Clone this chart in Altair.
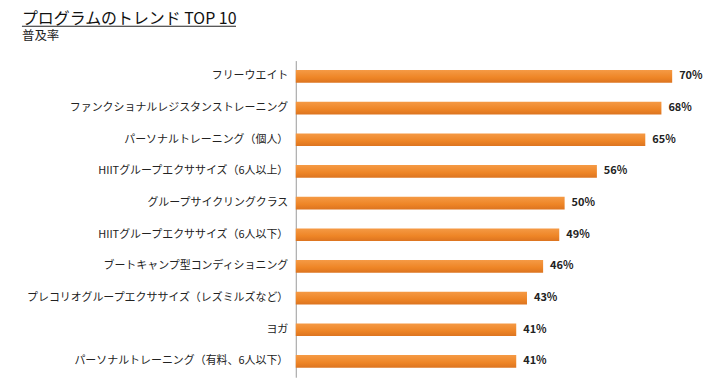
import altair as alt
import pandas as pd

categories = [
    "フリーウエイト",
    "ファンクショナルレジスタンストレーニング",
    "パーソナルトレーニング（個人）",
    "HIITグループエクササイズ（6人以上）",
    "グループサイクリングクラス",
    "HIITグループエクササイズ（6人以下）",
    "ブートキャンプ型コンディショニング",
    "プレコリオグループエクササイズ（レズミルズなど）",
    "ヨガ",
    "パーソナルトレーニング（有料、6人以下）",
]
values = [70, 68, 65, 56, 50, 49, 46, 43, 41, 41]
title_text = ["プログラムのトレンド TOP 10"]
subtitle_text = ["普及率"]

df = pd.DataFrame({"program": categories, "rate": values})
df["label"] = df["rate"].astype(str) + "%"

FONT = "Noto Sans CJK JP"

y_enc = alt.Y("program:N", sort=categories,
              scale=alt.Scale(paddingInner=0.6, paddingOuter=0.3),
              axis=alt.Axis(title=None, ticks=False, labelFontSize=11,
                            labelColor="#222222", labelFont=FONT,
                            labelPadding=8, domainColor="#9a9a9a",
                            labelLimit=300))
x_enc = alt.X("rate:Q", scale=alt.Scale(domain=[0, 70], nice=False),
              axis=None)

bars = alt.Chart(df).mark_bar(
    color=alt.Gradient(
        gradient="linear",
        stops=[alt.GradientStop(color="#F59A45", offset=0),
               alt.GradientStop(color="#EE8526", offset=0.6),
               alt.GradientStop(color="#DC7420", offset=1)],
        x1=0, x2=0, y1=0, y2=1),
    cornerRadius=0,
).encode(x=x_enc, y=y_enc)

labels = alt.Chart(df).mark_text(
    align="left", baseline="middle", dx=7, fontSize=11,
    fontWeight="bold", font=FONT, color="#222222"
).encode(x=x_enc, y=y_enc, text="label:N")

tdf = pd.DataFrame({"t": title_text})
sdf = pd.DataFrame({"t": subtitle_text})

title = alt.Chart(tdf).mark_text(
    align="left", baseline="alphabetic", font=FONT, fontSize=16,
    fontWeight="normal", color="#111111"
).encode(x=alt.value(-275), y=alt.value(-37), text="t:N")

subtitle = alt.Chart(sdf).mark_text(
    align="left", baseline="alphabetic", font=FONT, fontSize=12.5,
    color="#222222"
).encode(x=alt.value(-275), y=alt.value(-21), text="t:N")

underline = alt.Chart(tdf).mark_rule(color="#222222", strokeWidth=1.2).encode(
    x=alt.value(-275), x2=alt.value(-60), y=alt.value(-34.5)
)

chart = alt.layer(bars, labels, title, subtitle, underline).properties(
    width=378, height=318,
    autosize=alt.AutoSizeParams(type="none"),
    padding={"left": 289, "top": 52, "right": 40, "bottom": 8},
).configure_view(stroke=None)

chart.save("out.html", embed_options={"renderer": "svg", "actions": False})
